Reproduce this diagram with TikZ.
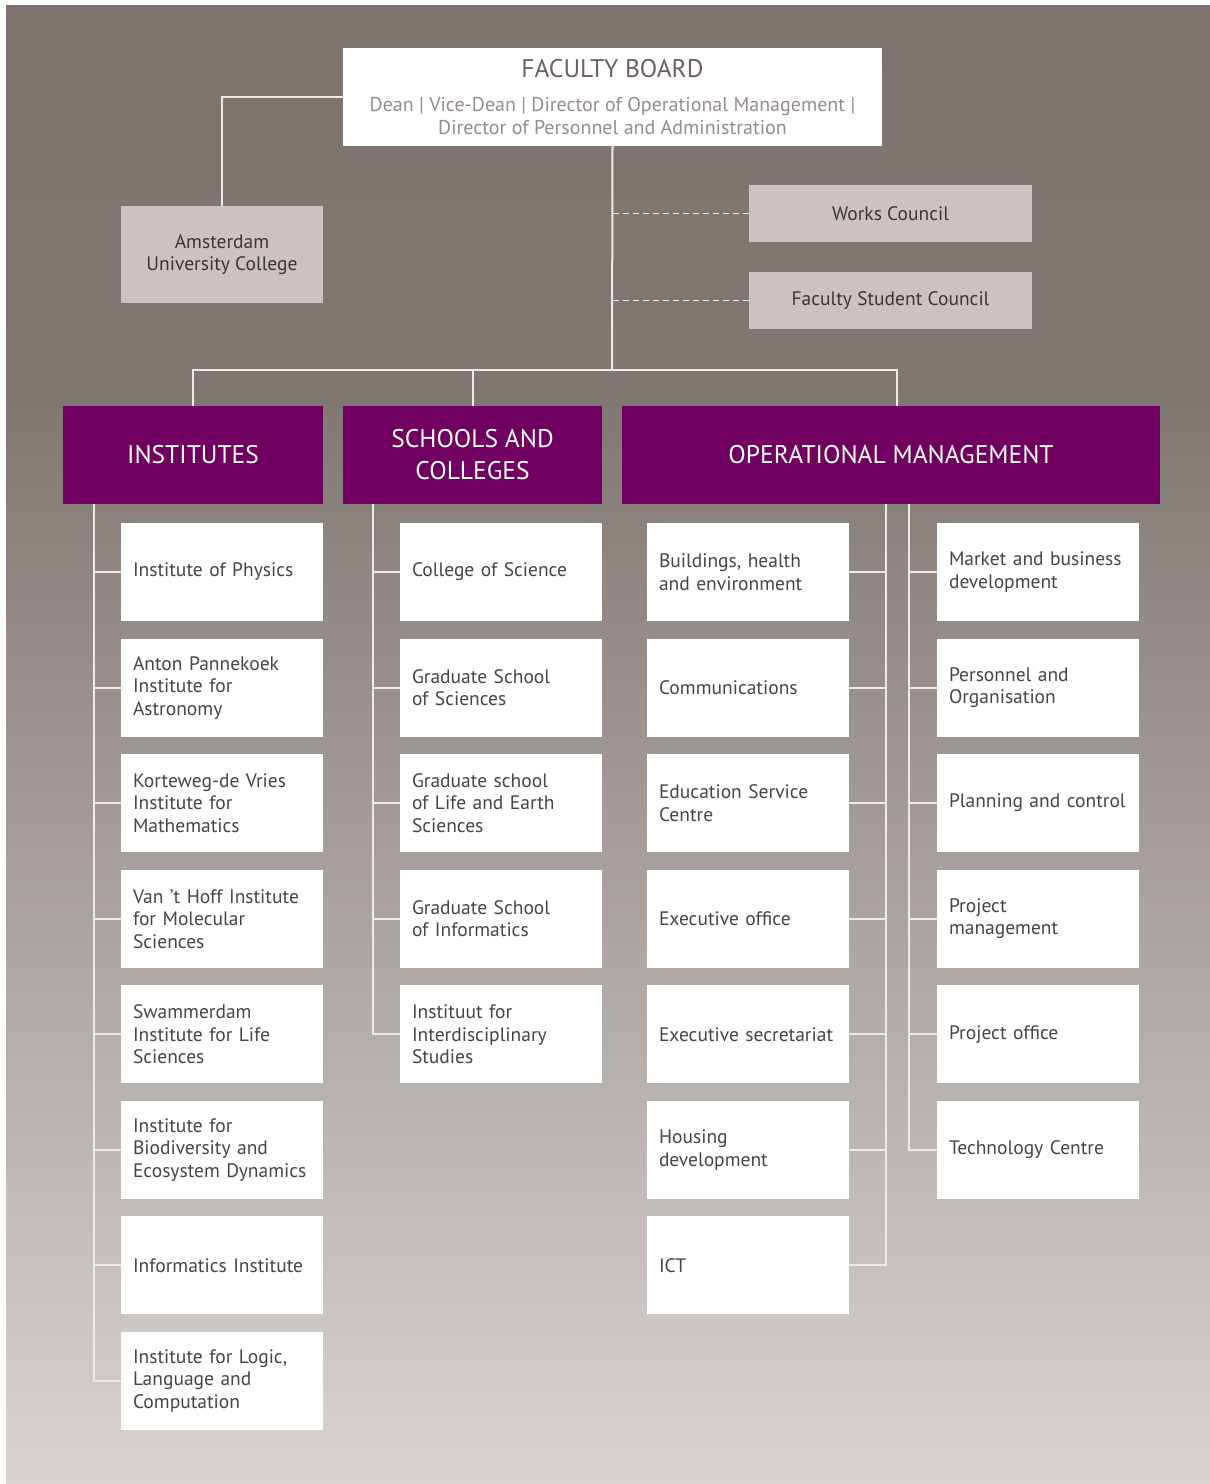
\documentclass[tikz,border=0pt]{standalone}
\usepackage{fontspec}
\setmainfont{PT Sans}
\definecolor{purp}{HTML}{6F0060}
\definecolor{bgtop}{HTML}{7D746F}
\definecolor{bgmid}{HTML}{807772}
\definecolor{bgbot}{HTML}{D8D4D2}
\definecolor{graybox}{HTML}{CBC3BF}
\definecolor{linec}{HTML}{EEEAE8}
\definecolor{itemtext}{HTML}{4A4442}
\definecolor{fbtitle}{HTML}{6B625E}
\definecolor{fbsub}{HTML}{968D89}
\pgfdeclareverticalshading{bgshade}{100bp}{color(0bp)=(bgbot); color(25bp)=(bgbot); color(62bp)=(bgmid); color(75bp)=(bgtop); color(100bp)=(bgtop)}
\tikzset{
  conn/.style={draw=linec, line width=2pt},
  dconn/.style={draw=linec, line width=1.6pt, dash pattern=on 6pt off 4pt},
  itembox/.style={rectangle, fill=white, minimum width=202pt, minimum height=98pt,
    inner xsep=12pt, inner ysep=0pt, text width=178pt, align=left, text=itemtext,
    font=\fontsize{19.5}{22.5}\selectfont},
  hdrbox/.style={rectangle, fill=purp, minimum height=98pt, inner sep=0pt, align=center,
    text=white, font=\fontsize{25.5}{32}\selectfont},
  councilbox/.style={rectangle, fill=graybox, inner sep=0pt, align=center, text=itemtext!80!black,
    font=\fontsize{19.5}{22.5}\selectfont},
}
\begin{document}
\begin{tikzpicture}[x=1pt,y=-1pt]
\useasboundingbox (0,0) rectangle (1210,1484);
\fill[white] (0,0) rectangle (1210,1484);
\shade[shading=bgshade] (6,5) rectangle (1210,1484);

% Faculty board
\node[rectangle, fill=white, minimum width=539pt, minimum height=98pt, inner sep=0pt, align=center,
  font=\fontsize{20}{23}\selectfont]
  (fb) at (612.5,97)
  {{\color{fbtitle}\fontsize{25.5}{23}\selectfont FACULTY BOARD}\\[11pt]
   {\color{fbsub}Dean | Vice-Dean | Director of Operational Management |}\\
   {\color{fbsub}Director of Personnel and Administration}};

% AUC and councils
\node[councilbox, minimum width=202pt, minimum height=97pt] (auc) at (222,254.5)
  {Amsterdam\\University College};
\node[councilbox, minimum width=283pt, minimum height=57pt] (wc) at (890.5,213.5) {Works Council};
\node[councilbox, minimum width=283pt, minimum height=57pt] (fsc) at (890.5,300.5) {Faculty Student Council};

% Headers
\node[hdrbox, minimum width=260pt] (ins) at (193,455) {INSTITUTES};
\node[hdrbox, minimum width=259pt] (sch) at (472.5,455) {SCHOOLS AND\\COLLEGES};
\node[hdrbox, minimum width=538pt] (om) at (891,455) {OPERATIONAL MANAGEMENT};

\coordinate (bus) at (612,370);
\coordinate (omtop) at (897,370);
\coordinate (sI) at (94,504);
\coordinate (sS) at (373,504);
\coordinate (sOL) at (886,504);
\coordinate (sOR) at (909,504);

% top connectors
\draw[conn] (fb.west) -| (auc.north);
\draw[conn] (fb.south) -- (bus);
\draw[conn] (ins.north) |- (omtop) -- (omtop |- om.north);
\draw[conn] (sch.north) -- (sch.north |- bus);
\draw[dconn] (wc.west) -- (wc.west -| bus);
\draw[dconn] (fsc.west) -- (fsc.west -| bus);

% Institutes
\foreach \t [count=\k] in {
  {Institute of Physics},
  {Anton Pannekoek\\Institute for\\Astronomy},
  {Korteweg-de Vries\\Institute for\\Mathematics},
  {Van ’t Hoff Institute\\for Molecular\\Sciences},
  {Swammerdam\\Institute for Life\\Sciences},
  {Institute for\\Biodiversity and\\Ecosystem Dynamics},
  {Informatics Institute},
  {Institute for Logic,\\Language and\\Computation}}
  {\node[itembox] (i\k) at (222,{572+115.57*(\k-1)}) {\t};}

% Schools
\foreach \t [count=\k] in {
  {College of Science},
  {Graduate School\\of Sciences},
  {Graduate school\\of Life and Earth\\Sciences},
  {Graduate School\\of Informatics},
  {Instituut for\\Interdisciplinary\\Studies}}
  {\node[itembox] (s\k) at (501,{572+115.57*(\k-1)}) {\t};}

% Ops left
\foreach \t [count=\k] in {
  {Buildings, health\\and environment},
  {Communications},
  {Education Service\\Centre},
  {Executive office},
  {Executive secretariat},
  {Housing\\development},
  {ICT}}
  {\node[itembox] (o\k) at (748,{572+115.57*(\k-1)}) {\t};}

% Ops right
\foreach \t [count=\k] in {
  {Market and business\\development},
  {Personnel and\\Organisation},
  {Planning and control},
  {Project\\management},
  {Project office},
  {Technology Centre}}
  {\node[itembox] (r\k) at (1038,{572+115.57*(\k-1)}) {\t};}

% spines
\draw[conn] (sI) |- (i8.west);
\foreach \k in {1,...,7} {\draw[conn] (i\k.west) -- (i\k.west -| sI);}
\draw[conn] (sS) |- (s5.west);
\foreach \k in {1,...,4} {\draw[conn] (s\k.west) -- (s\k.west -| sS);}
\draw[conn] (sOL) |- (o7.east);
\foreach \k in {1,...,6} {\draw[conn] (o\k.east) -- (o\k.east -| sOL);}
\draw[conn] (sOR) |- (r6.west);
\foreach \k in {1,...,5} {\draw[conn] (r\k.west) -- (r\k.west -| sOR);}
\end{tikzpicture}
\end{document}
